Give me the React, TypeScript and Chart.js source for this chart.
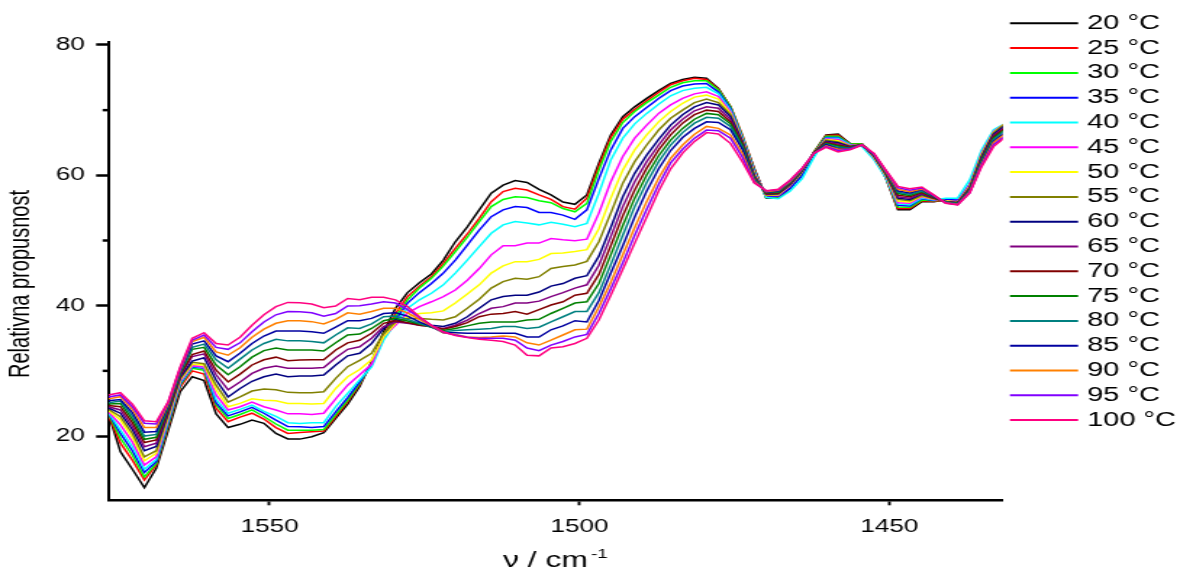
import React, { useEffect, useRef } from "react";
import { Chart, registerables } from "chart.js";

Chart.register(...registerables);

// wavenumber axis (cm^-1), one sample every ~1.93 cm^-1
const wavenumbers = [
  1576.0, 1574.07, 1572.14, 1570.21, 1568.28, 1566.35, 1564.42, 1562.49, 1560.56, 1558.63,
  1556.7, 1554.77, 1552.84, 1550.91, 1548.98, 1547.05, 1545.12, 1543.19, 1541.26, 1539.33,
  1537.4, 1535.47, 1533.54, 1531.61, 1529.68, 1527.75, 1525.82, 1523.89, 1521.96, 1520.03,
  1518.1, 1516.17, 1514.24, 1512.31, 1510.38, 1508.45, 1506.52, 1504.59, 1502.66, 1500.73,
  1498.8, 1496.87, 1494.94, 1493.01, 1491.08, 1489.15, 1487.22, 1485.29, 1483.36, 1481.43,
  1479.5, 1477.57, 1475.64, 1473.71, 1471.78, 1469.85, 1467.92, 1465.99, 1464.06, 1462.13,
  1460.2, 1458.27, 1456.34, 1454.41, 1452.48, 1450.55, 1448.62, 1446.69, 1444.76, 1442.83,
  1440.9, 1438.97, 1437.04, 1435.11, 1433.18, 1431.25,
];

const t20 = [23.4, 17.6, 14.9, 12.1, 15.05, 20.9, 26.8, 29.1, 28.5, 23.4, 21.3, 21.8, 22.45, 21.95, 20.4, 19.55, 19.53, 19.9, 20.5, 22.7, 24.9, 27.6, 31.4, 36.0, 39.6, 42.0, 43.5, 44.86, 47.0, 49.8, 52.1, 54.7, 57.25, 58.5, 59.2, 58.9, 57.85, 57.0, 55.9, 55.55, 57.0, 61.85, 66.2, 69.0, 70.5, 71.8, 73.0, 74.1, 74.7, 75.05, 74.9, 73.35, 70.5, 65.9, 61.0, 56.5, 56.5, 58.0, 60.3, 63.6, 66.2, 66.35, 64.9, 64.8, 63.1, 59.55, 54.7, 54.7, 55.95, 55.95, 56.2, 55.95, 57.75, 62.9, 65.9, 67.4];
const t25 = [23.2, 18.9, 16.3, 13.25, 15.55, 21.5, 27.5, 30.0, 29.5, 24.25, 22.2, 22.9, 23.5, 22.6, 21.3, 20.4, 20.55, 20.66, 20.77, 22.97, 25.27, 27.9, 31.2, 35.4, 38.8, 41.4, 43.0, 44.45, 46.5, 48.8, 51.0, 53.4, 55.95, 57.5, 58.0, 57.75, 57.0, 56.3, 55.2, 54.8, 56.5, 61.4, 65.8, 68.6, 70.1, 71.45, 72.7, 73.9, 74.5, 74.9, 74.7, 73.2, 70.6, 66.2, 60.9, 56.6, 56.6, 58.1, 60.35, 63.6, 66.1, 66.2, 64.8, 64.8, 63.0, 59.6, 54.9, 54.9, 56.1, 56.0, 56.2, 55.95, 57.9, 63.1, 66.1, 67.5];
const t30 = [23.4, 19.65, 17.1, 13.75, 15.8, 21.8, 27.8, 30.4, 30.1, 24.8, 22.7, 23.3, 24.0, 23.0, 21.85, 20.9, 20.9, 20.9, 21.0, 23.3, 25.5, 28.1, 31.0, 35.2, 38.3, 40.9, 42.7, 44.2, 46.1, 48.3, 50.5, 52.9, 55.2, 56.3, 56.7, 56.6, 56.1, 55.8, 54.9, 54.4, 55.7, 60.8, 65.2, 68.1, 69.8, 71.15, 72.3, 73.5, 74.2, 74.5, 74.5, 73.1, 70.5, 66.0, 60.7, 56.6, 56.7, 58.2, 60.4, 63.6, 66.0, 66.0, 64.8, 64.8, 62.9, 59.7, 55.15, 55.1, 56.2, 56.1, 56.2, 56.0, 58.1, 63.3, 66.3, 67.7];
const t35 = [23.5, 20.4, 17.75, 14.4, 16.05, 22.1, 28.0, 30.6, 30.4, 25.1, 23.1, 23.7, 24.4, 23.5, 22.45, 21.45, 21.42, 21.3, 21.45, 23.7, 25.9, 28.3, 30.9, 35.0, 37.8, 40.4, 42.0, 43.4, 45.0, 47.0, 49.3, 51.6, 53.65, 54.7, 55.2, 55.05, 54.3, 54.3, 53.9, 53.25, 54.7, 59.5, 63.9, 67.2, 69.0, 70.4, 71.8, 73.0, 73.7, 74.0, 74.1, 72.8, 70.3, 65.8, 60.6, 56.7, 56.8, 58.0, 59.9, 63.4, 65.8, 65.8, 64.7, 64.7, 62.7, 59.8, 55.4, 55.3, 56.4, 56.15, 56.3, 56.2, 58.6, 63.6, 66.6, 67.9];
const t40 = [23.6, 20.9, 18.4, 14.9, 16.4, 22.4, 28.2, 30.7, 30.5, 25.6, 23.5, 24.1, 24.75, 23.8, 23.0, 22.05, 21.94, 22.05, 22.05, 24.5, 26.55, 28.6, 30.6, 34.7, 37.3, 39.6, 40.9, 41.9, 43.2, 45.0, 47.0, 49.05, 51.1, 52.4, 52.9, 52.7, 52.4, 52.8, 52.5, 52.1, 52.6, 57.25, 62.35, 65.7, 67.9, 69.5, 70.9, 72.2, 73.0, 73.35, 73.5, 72.5, 70.0, 65.7, 60.5, 56.6, 56.4, 57.6, 59.5, 62.8, 65.7, 65.7, 64.7, 64.4, 62.4, 59.6, 55.6, 55.5, 56.5, 56.2, 56.5, 56.5, 59.3, 63.9, 67.0, 68.0];
const t45 = [23.7, 21.7, 19.1, 15.55, 16.8, 22.7, 28.4, 30.8, 30.6, 26.3, 24.0, 24.5, 25.2, 24.5, 24.0, 23.4, 23.4, 23.3, 23.5, 25.7, 27.8, 29.4, 31.0, 35.3, 37.0, 38.9, 39.85, 40.6, 41.4, 42.4, 43.9, 45.7, 47.8, 49.2, 49.2, 49.6, 49.6, 50.3, 50.1, 49.97, 50.2, 54.2, 59.0, 62.9, 65.7, 67.7, 69.5, 70.8, 71.8, 72.5, 72.8, 72.1, 69.8, 65.5, 60.3, 56.9, 56.9, 58.4, 60.55, 63.5, 65.6, 65.5, 64.6, 64.7, 62.7, 59.9, 55.8, 55.7, 56.65, 56.3, 56.1, 56.0, 58.5, 63.4, 66.7, 68.0];
const t50 = [23.9, 22.46, 19.8, 16.2, 17.35, 23.0, 28.6, 31.0, 30.9, 27.1, 24.5, 25.0, 25.7, 25.5, 25.4, 25.0, 25.0, 24.9, 25.0, 27.3, 29.1, 30.2, 31.7, 35.2, 37.3, 38.3, 38.8, 38.9, 39.2, 40.4, 41.8, 43.2, 45.0, 46.1, 46.75, 46.75, 47.1, 48.0, 48.1, 48.3, 48.6, 51.8, 56.5, 60.8, 63.9, 66.2, 68.2, 69.8, 71.05, 72.0, 72.3, 71.7, 69.5, 65.4, 60.2, 56.9, 57.0, 58.5, 60.6, 63.5, 65.5, 65.3, 64.5, 64.7, 62.8, 60.0, 56.05, 55.9, 56.8, 56.35, 56.1, 55.9, 58.3, 63.2, 66.6, 68.0];
const t55 = [24.1, 22.97, 20.4, 16.8, 17.75, 23.3, 28.8, 31.3, 31.1, 27.8, 25.2, 26.0, 26.9, 27.2, 27.1, 26.7, 26.65, 26.65, 26.8, 28.85, 30.64, 31.6, 32.7, 35.76, 37.5, 38.05, 38.05, 37.9, 37.8, 38.3, 39.6, 41.0, 42.7, 43.7, 44.2, 44.05, 44.45, 45.7, 46.0, 46.24, 46.8, 49.8, 54.2, 58.8, 62.1, 64.65, 66.95, 68.75, 70.0, 71.15, 71.7, 71.15, 69.3, 65.3, 60.0, 57.0, 57.1, 58.6, 60.65, 63.5, 65.4, 65.1, 64.5, 64.7, 62.9, 60.1, 56.3, 56.1, 56.9, 56.4, 56.0, 55.85, 58.2, 63.0, 66.5, 68.0];
const t60 = [24.3, 23.5, 21.0, 17.75, 18.4, 23.6, 29.0, 31.5, 32.0, 28.6, 26.0, 27.3, 28.4, 29.1, 29.5, 29.1, 29.2, 29.2, 29.35, 30.9, 32.3, 32.7, 34.2, 36.5, 37.9, 37.3, 37.3, 37.0, 36.8, 37.3, 38.3, 39.6, 40.9, 41.4, 41.6, 41.6, 42.1, 43.0, 43.4, 44.2, 44.6, 47.6, 52.0, 56.7, 60.3, 63.1, 65.5, 67.7, 69.3, 70.5, 71.15, 70.8, 69.0, 65.2, 59.9, 57.1, 57.2, 58.6, 60.7, 63.5, 65.2, 65.0, 64.4, 64.7, 63.0, 60.2, 56.5, 56.3, 57.1, 56.5, 56.0, 55.8, 58.0, 62.8, 66.3, 67.7];
const t65 = [24.5, 24.0, 21.5, 18.36, 18.9, 23.9, 29.2, 32.2, 32.6, 29.4, 27.1, 28.3, 29.6, 30.4, 30.75, 30.4, 30.39, 30.4, 30.5, 32.0, 33.3, 33.7, 35.0, 36.8, 37.5, 37.3, 37.0, 36.8, 36.5, 37.0, 37.8, 38.8, 39.6, 39.85, 40.4, 40.4, 40.7, 41.4, 42.0, 42.7, 43.2, 46.2, 50.6, 55.2, 59.0, 62.1, 64.65, 66.95, 68.6, 69.9, 70.5, 70.3, 68.6, 65.0, 59.8, 57.1, 57.3, 58.7, 60.75, 63.5, 65.1, 64.8, 64.3, 64.7, 63.0, 60.3, 56.7, 56.5, 57.2, 56.55, 56.0, 55.8, 57.9, 62.6, 66.1, 67.5];
const t70 = [24.7, 24.5, 22.05, 19.0, 19.4, 24.1, 29.4, 32.5, 33.05, 30.1, 28.3, 29.5, 30.9, 31.7, 32.1, 31.55, 31.67, 31.7, 31.7, 33.2, 34.3, 34.7, 35.76, 37.3, 37.7, 37.4, 37.0, 36.8, 36.4, 36.8, 37.4, 38.3, 38.7, 38.8, 39.1, 38.7, 39.4, 40.1, 40.6, 41.6, 41.9, 44.8, 49.2, 53.8, 57.75, 61.1, 63.9, 66.2, 68.0, 69.3, 70.0, 69.8, 68.2, 64.8, 59.6, 57.2, 57.3, 58.8, 60.8, 63.5, 65.0, 64.6, 64.3, 64.7, 63.1, 60.3, 56.95, 56.7, 57.35, 56.6, 55.9, 55.75, 57.8, 62.4, 65.9, 67.3];
const t75 = [24.9, 25.0, 22.6, 19.5, 19.8, 24.4, 29.6, 33.3, 33.6, 30.9, 29.4, 30.64, 32.1, 33.1, 33.5, 33.2, 33.2, 33.2, 33.05, 34.3, 35.5, 35.65, 36.5, 37.7, 38.05, 37.65, 37.2, 36.7, 36.2, 36.5, 36.9, 37.3, 37.5, 37.5, 37.5, 37.8, 37.9, 38.8, 39.6, 40.4, 40.6, 43.4, 47.8, 52.3, 56.5, 60.05, 63.0, 65.4, 67.2, 68.6, 69.5, 69.3, 67.9, 64.6, 59.5, 57.3, 57.4, 58.9, 60.85, 63.4, 64.9, 64.5, 64.2, 64.7, 63.1, 60.4, 57.2, 56.9, 57.5, 56.7, 55.9, 55.7, 57.7, 62.3, 65.7, 67.1];
const t80 = [25.1, 25.37, 23.1, 20.0, 20.25, 24.6, 29.8, 33.6, 34.1, 31.7, 30.4, 31.8, 33.2, 34.2, 34.85, 34.6, 34.63, 34.5, 34.3, 35.5, 36.6, 36.5, 37.2, 38.3, 38.4, 37.9, 37.3, 36.7, 36.0, 36.2, 36.3, 36.4, 36.5, 36.8, 36.8, 36.5, 36.7, 37.5, 38.3, 39.1, 39.1, 42.0, 46.3, 50.8, 55.2, 58.9, 62.1, 64.65, 66.55, 68.0, 68.9, 68.75, 67.5, 64.3, 59.4, 57.4, 57.5, 59.0, 60.9, 63.4, 64.8, 64.3, 64.2, 64.7, 63.2, 60.5, 57.4, 57.1, 57.6, 56.75, 55.9, 55.65, 57.6, 62.1, 65.5, 66.9];
const t85 = [25.4, 25.6, 23.6, 20.6, 20.7, 24.8, 30.0, 34.1, 34.6, 32.3, 31.4, 32.7, 34.2, 35.35, 36.1, 36.1, 36.1, 36.0, 35.76, 36.7, 37.7, 37.7, 38.05, 38.8, 38.9, 38.4, 37.5, 36.8, 35.85, 35.85, 35.76, 35.76, 35.76, 35.76, 35.76, 35.2, 35.2, 36.3, 36.9, 37.7, 37.5, 40.8, 45.0, 49.2, 53.6, 57.6, 61.0, 63.8, 65.8, 67.2, 68.2, 68.1, 67.0, 64.0, 59.2, 57.4, 57.6, 59.1, 60.95, 63.4, 64.7, 64.1, 64.1, 64.7, 63.2, 60.6, 57.6, 57.3, 57.8, 56.8, 55.8, 55.6, 57.5, 61.9, 65.2, 66.6];
const t90 = [25.7, 26.04, 24.1, 21.3, 21.3, 25.0, 30.2, 34.5, 35.15, 32.9, 32.4, 33.55, 35.15, 36.4, 37.3, 37.7, 37.7, 37.55, 37.2, 37.9, 38.9, 38.7, 39.1, 39.6, 39.6, 38.9, 37.9, 36.9, 35.85, 35.6, 35.2, 35.1, 35.2, 35.35, 35.2, 34.3, 33.96, 34.7, 35.5, 36.3, 36.4, 39.8, 43.6, 47.8, 52.0, 56.0, 59.6, 62.6, 64.65, 66.3, 67.5, 67.2, 66.2, 63.4, 59.1, 57.5, 57.7, 59.1, 61.0, 63.4, 64.5, 64.0, 64.0, 64.7, 63.3, 60.6, 57.85, 57.5, 57.9, 56.9, 55.8, 55.55, 57.4, 61.7, 65.0, 66.4];
const t95 = [26.0, 26.3, 24.5, 21.95, 21.85, 25.2, 30.4, 34.7, 35.5, 33.6, 33.3, 34.3, 36.0, 37.5, 38.6, 39.1, 39.08, 38.9, 38.4, 38.8, 39.96, 40.0, 40.26, 40.6, 40.4, 39.4, 38.2, 37.0, 35.9, 35.5, 35.15, 35.0, 35.0, 35.0, 34.7, 33.5, 33.1, 33.96, 34.5, 35.2, 35.6, 38.8, 42.6, 46.6, 50.8, 54.8, 58.6, 61.9, 64.0, 65.7, 66.95, 66.85, 65.7, 62.8, 58.9, 57.6, 57.8, 59.2, 61.05, 63.4, 64.4, 63.8, 64.0, 64.65, 63.3, 60.7, 58.1, 57.7, 58.05, 56.95, 55.75, 55.5, 57.3, 61.5, 64.7, 66.1];
const t100 = [26.3, 26.65, 24.9, 22.35, 22.2, 25.3, 30.6, 35.0, 35.85, 34.2, 33.97, 35.15, 37.0, 38.6, 39.85, 40.5, 40.46, 40.26, 39.7, 39.96, 41.1, 40.9, 41.3, 41.3, 40.9, 39.85, 38.3, 37.0, 36.0, 35.4, 35.1, 34.85, 34.7, 34.5, 33.96, 32.4, 32.3, 33.5, 33.7, 34.2, 35.0, 37.8, 41.6, 45.6, 49.6, 53.6, 57.6, 61.0, 63.4, 65.2, 66.55, 66.35, 64.9, 62.1, 58.8, 57.65, 57.85, 59.3, 61.1, 63.4, 64.3, 63.6, 63.9, 64.65, 63.4, 60.8, 58.3, 57.95, 58.2, 57.0, 55.7, 55.45, 57.25, 61.3, 64.4, 65.9];

const seriesLabels = ["20 °C", "25 °C", "30 °C", "35 °C", "40 °C", "45 °C", "50 °C", "55 °C", "60 °C", "65 °C", "70 °C", "75 °C", "80 °C", "85 °C", "90 °C", "95 °C", "100 °C"];
const seriesValues = [t20, t25, t30, t35, t40, t45, t50, t55, t60, t65, t70, t75, t80, t85, t90, t95, t100];
const seriesColors = ["#000000", "#ff0000", "#00ff00", "#0000ff", "#00ffff", "#ff00ff", "#ffff00", "#808000", "#000080", "#800080", "#800000", "#008000", "#008080", "#0000a0", "#ff8000", "#8000ff", "#ff0080"];

const yMajorTicks = [20, 40, 60, 80];
const yMinorTicks = [30, 50, 70];
const xTicks = [1450, 1500, 1550];

const FONT = "'Liberation Sans', Arial, Helvetica, sans-serif";
// The reference is horizontally stretched: draw at a narrower canvas and scale with CSS.
const CSS_W = 1180;
const CSS_H = 569;
const W = 814;
const H = 569;

const decorPlugin = {
  id: "decor",
  afterDraw(chart: any) {
    const ctx = chart.ctx as CanvasRenderingContext2D;
    const area = chart.chartArea;
    const ys = chart.scales.y;
    ctx.save();
    // minor y ticks
    ctx.strokeStyle = "#000";
    ctx.lineWidth = 2.5;
    for (const v of yMinorTicks) {
      const y = ys.getPixelForValue(v);
      ctx.beginPath();
      ctx.moveTo(area.left - 4, y);
      ctx.lineTo(area.left, y);
      ctx.stroke();
    }
    // legend
    const x1 = 696.7;
    const x2 = 743.7;
    const tx = 749.9;
    const y0 = 23.3;
    const dy = 24.8;
    ctx.font = `20px ${FONT}`;
    ctx.textBaseline = "middle";
    ctx.textAlign = "left";
    chart.data.datasets.forEach((ds: any, k: number) => {
      const y = y0 + dy * k;
      ctx.strokeStyle = ds.borderColor;
      ctx.lineWidth = 2;
      ctx.beginPath();
      ctx.moveTo(x1, y);
      ctx.lineTo(x2, y);
      ctx.stroke();
      ctx.fillStyle = "#000";
      ctx.fillText(ds.label, tx, y);
    });
    // y title
    ctx.save();
    ctx.translate(14.5, 284);
    ctx.rotate(-Math.PI / 2);
    ctx.font = `20px ${FONT}`;
    ctx.textAlign = "center";
    ctx.textBaseline = "middle";
    ctx.fillStyle = "#000";
    ctx.fillText("Relativna propusnost", 0, 0);
    ctx.restore();
    // x title with superscript
    ctx.font = `22px ${FONT}`;
    ctx.textAlign = "left";
    ctx.textBaseline = "alphabetic";
    ctx.fillStyle = "#000";
    const main = "ν / cm";
    ctx.fillText(main, 347, 567);
    const mw = ctx.measureText(main).width;
    ctx.font = `13px ${FONT}`;
    ctx.fillText("-1", 347 + mw + 2, 558);
    ctx.restore();
  },
};

export default function App() {
  const ref = useRef<HTMLCanvasElement | null>(null);
  useEffect(() => {
    if (!ref.current) return;
    Chart.defaults.font.family = FONT;
    const datasets = seriesValues.map((vals, k) => ({
      label: seriesLabels[k],
      data: vals.map((v, i) => ({ x: wavenumbers[i], y: v })),
      borderColor: seriesColors[k],
      backgroundColor: seriesColors[k],
      borderWidth: 1.5,
      pointRadius: 0,
      tension: 0,
      fill: false,
      order: seriesValues.length - 1 - k,
    }));
    const chart = new Chart(ref.current, {
      type: "line",
      data: { datasets },
      options: {
        animation: false,
        responsive: false,
        devicePixelRatio: 1,
        layout: { padding: { top: 41.7, right: W - 691.7, bottom: 0, left: 0 } },
        plugins: { legend: { display: false }, tooltip: { enabled: false } },
        events: [],
        scales: {
          x: {
            type: "linear",
            reverse: true,
            min: 1431.7,
            max: 1576.0,
            afterFit: (s: any) => {
              s.height = H - 500.3;
            },
            afterBuildTicks: (s: any) => {
              s.ticks = xTicks.map((v) => ({ value: v }));
            },
            ticks: {
              stepSize: 50,
              includeBounds: false,
              padding: 10.5,
              color: "#000",
              font: { size: 18, family: FONT },
              maxRotation: 0,
              callback: (v: any) => String(v),
            },
            grid: { drawOnChartArea: false, drawTicks: true, tickLength: 5, tickWidth: 1.9, tickColor: "#000", color: "#000" },
            border: { display: true, color: "#000", width: 2.5 },
          },
          y: {
            type: "linear",
            min: 10.14,
            max: 80.5,
            afterFit: (s: any) => {
              s.width = 74.8;
            },
            afterBuildTicks: (s: any) => {
              s.ticks = yMajorTicks.map((v) => ({ value: v }));
            },
            ticks: {
              stepSize: 20,
              includeBounds: false,
              padding: 7.7,
              color: "#000",
              font: { size: 18, family: FONT },
              callback: (v: any) => String(v),
            },
            grid: { drawOnChartArea: false, drawTicks: true, tickLength: 8.5, tickWidth: 2.5, tickColor: "#000", color: "#000" },
            border: { display: true, color: "#000", width: 2 },
          },
        },
      },
      plugins: [decorPlugin],
    });
    return () => chart.destroy();
  }, []);
  return (
    <div style={{ position: "fixed", left: 0, top: 0, width: CSS_W, height: CSS_H, background: "#fff" }}>
      <canvas ref={ref} width={W} height={H} style={{ width: `${CSS_W}px`, height: `${CSS_H}px`, display: "block" }} />
    </div>
  );
}
